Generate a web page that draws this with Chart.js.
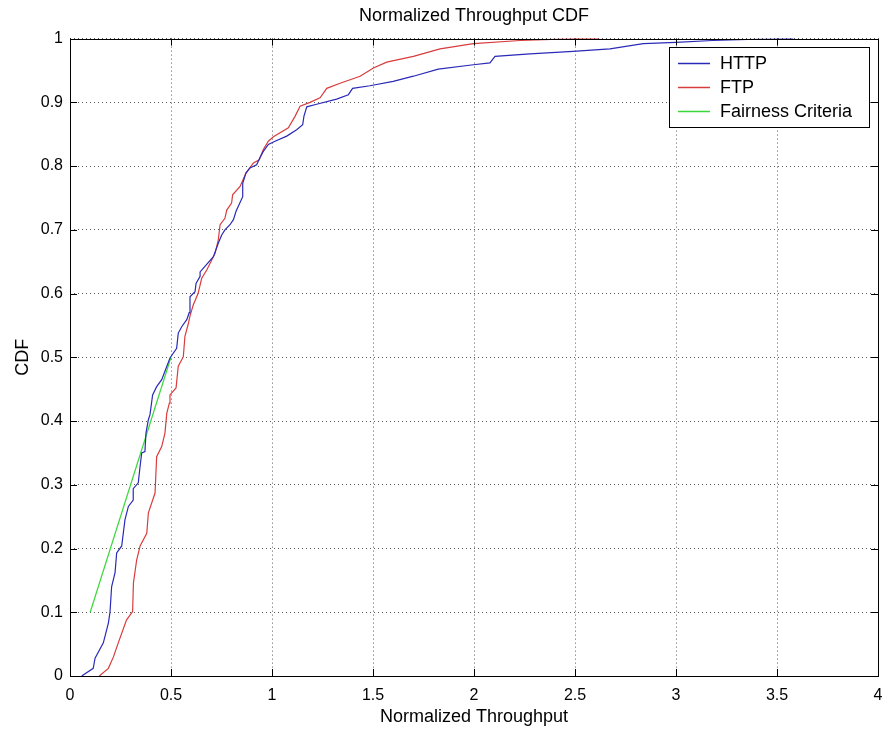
<!DOCTYPE html>
<html>
<head>
<meta charset="utf-8">
<script src="https://cdn.jsdelivr.net/npm/chart.js@4/dist/chart.umd.min.js"></script>
<style>
  html, body { margin: 0; padding: 0; background: #fff; }
  #wrap { width: 887px; height: 730px; }
</style>
</head>
<body>
<div id="wrap"><canvas id="cdf"></canvas></div>
<script>
// data
let httpX = [0.058, 0.115, 0.124, 0.165, 0.19, 0.198, 0.206, 0.223, 0.231, 0.256, 0.272, 0.289, 0.313, 0.313, 0.338, 0.347, 0.355, 0.371, 0.376, 0.388, 0.396, 0.409, 0.429, 0.454, 0.47, 0.495, 0.528, 0.536, 0.553, 0.578, 0.59, 0.594, 0.619, 0.624, 0.644, 0.644, 0.71, 0.734, 0.751, 0.767, 0.792, 0.809, 0.822, 0.855, 0.855, 0.871, 0.891, 0.924, 0.94, 0.957, 0.982, 1.015, 1.073, 1.122, 1.152, 1.158, 1.172, 1.221, 1.32, 1.378, 1.399, 1.485, 1.6, 1.7, 1.823, 1.997, 2.079, 2.104, 2.277, 2.49, 2.673, 2.838, 3.0, 3.18, 3.4, 3.58];
let httpY = [0, 0.012, 0.028, 0.052, 0.083, 0.1, 0.14, 0.162, 0.193, 0.204, 0.245, 0.266, 0.276, 0.294, 0.303, 0.329, 0.35, 0.352, 0.381, 0.402, 0.41, 0.441, 0.454, 0.465, 0.478, 0.499, 0.514, 0.538, 0.548, 0.559, 0.57, 0.595, 0.603, 0.616, 0.627, 0.634, 0.658, 0.679, 0.692, 0.70, 0.708, 0.716, 0.729, 0.752, 0.773, 0.789, 0.797, 0.802, 0.813, 0.823, 0.834, 0.839, 0.847, 0.857, 0.865, 0.878, 0.893, 0.897, 0.905, 0.912, 0.922, 0.926, 0.933, 0.941, 0.952, 0.959, 0.962, 0.972, 0.976, 0.98, 0.984, 0.992, 0.994, 0.997, 0.999, 1.0];

let ftpX = [0.145, 0.19, 0.215, 0.239, 0.28, 0.31, 0.314, 0.33, 0.347, 0.38, 0.388, 0.421, 0.429, 0.454, 0.47, 0.479, 0.492, 0.495, 0.525, 0.536, 0.561, 0.569, 0.586, 0.594, 0.61, 0.634, 0.652, 0.677, 0.718, 0.734, 0.743, 0.767, 0.776, 0.8, 0.805, 0.842, 0.871, 0.908, 0.937, 0.957, 0.982, 1.007, 1.081, 1.114, 1.139, 1.188, 1.238, 1.271, 1.337, 1.436, 1.502, 1.568, 1.7, 1.832, 1.997, 2.228, 2.5, 2.62];
let ftpY = [0, 0.012, 0.03, 0.052, 0.088, 0.101, 0.146, 0.182, 0.204, 0.224, 0.256, 0.287, 0.344, 0.36, 0.381, 0.412, 0.428, 0.441, 0.452, 0.486, 0.501, 0.533, 0.553, 0.565, 0.582, 0.6, 0.624, 0.637, 0.663, 0.684, 0.708, 0.718, 0.731, 0.742, 0.755, 0.768, 0.789, 0.805, 0.81, 0.826, 0.839, 0.846, 0.86, 0.878, 0.894, 0.9, 0.907, 0.922, 0.93, 0.941, 0.954, 0.963, 0.972, 0.984, 0.992, 0.997, 1.0, 1.0];

let fairX = [0.1, 0.5];
let fairY = [0.1, 0.5];

let xTicks = [0, 0.5, 1, 1.5, 2, 2.5, 3, 3.5, 4];
let yTicks = [0, 0.1, 0.2, 0.3, 0.4, 0.5, 0.6, 0.7, 0.8, 0.9, 1];

function pts(xs, ys) {
  return xs.map((x, i) => ({ x: x, y: ys[i] }));
}

let font = "'Liberation Sans', Arial, sans-serif";

// box, inward ticks and legend like the matlab figure
let matlabFrame = {
  id: "matlabFrame",
  afterDraw(chart) {
    let ctx = chart.ctx;
    let a = chart.chartArea;
    let xs = chart.scales.x;
    let ys = chart.scales.y;
    ctx.save();
    ctx.strokeStyle = "#000";
    ctx.lineWidth = 1;
    ctx.strokeRect(Math.round(a.left) + 0.5, Math.round(a.top) + 0.5, Math.round(a.right - a.left), Math.round(a.bottom - a.top));
    ctx.beginPath();
    xTicks.forEach((t) => {
      let px = Math.round(xs.getPixelForValue(t)) + 0.5;
      ctx.moveTo(px, a.bottom); ctx.lineTo(px, a.bottom - 7);
      ctx.moveTo(px, a.top); ctx.lineTo(px, a.top + 7);
    });
    yTicks.forEach((t) => {
      let py = Math.round(ys.getPixelForValue(t)) + 0.5;
      ctx.moveTo(a.left, py); ctx.lineTo(a.left + 7, py);
      ctx.moveTo(a.right, py); ctx.lineTo(a.right - 7, py);
    });
    ctx.stroke();

    // legend
    let lx = 669, ly = 47, lw = 200, lh = 80;
    ctx.fillStyle = "#fff";
    ctx.fillRect(lx, ly, lw, lh);
    ctx.strokeStyle = "#000";
    ctx.strokeRect(lx + 0.5, ly + 0.5, lw, lh);
    ctx.font = "18px " + font;
    ctx.textBaseline = "middle";
    chart.data.datasets.forEach((ds, i) => {
      let cy = Math.round(ly + 16 + i * 24);
      ctx.strokeStyle = ds.borderColor;
      ctx.lineWidth = 1.5;
      ctx.beginPath();
      ctx.moveTo(678, cy + 0.5);
      ctx.lineTo(710, cy + 0.5);
      ctx.stroke();
      ctx.fillStyle = "#000";
      ctx.fillText(ds.label, 720, cy + 1);
    });
    ctx.restore();
  },
};

let cdfCtx = document.getElementById("cdf").getContext("2d");
let cdfChart = new Chart(cdfCtx, {
  type: "scatter",
  data: {
    datasets: [
      {
        label: "HTTP",
        data: pts(httpX, httpY),
        showLine: true,
        borderColor: "#2a2ab8",
        borderWidth: 1.2,
        pointRadius: 0,
      },
      {
        label: "FTP",
        data: pts(ftpX, ftpY),
        showLine: true,
        borderColor: "#d83c3c",
        borderWidth: 1.2,
        pointRadius: 0,
      },
      {
        label: "Fairness Criteria",
        data: pts(fairX, fairY),
        showLine: true,
        borderColor: "#3ad83a",
        borderWidth: 1.2,
        pointRadius: 0,
      },
    ],
  },
  options: {
    responsive: true,
    maintainAspectRatio: false,
    animation: false,
    layout: { padding: { left: 12, right: 9, top: 0, bottom: 0 } },
    plugins: {
      legend: { display: false },
      tooltip: { enabled: false },
      title: {
        display: true,
        fullSize: false,
        text: "Normalized Throughput CDF",
        color: "#000",
        font: { family: font, size: 18, weight: "normal" },
        padding: { top: 5, bottom: 12 },
      },
    },
    scales: {
      x: {
        type: "linear",
        min: 0,
        max: 4,
        afterBuildTicks: (s) => { s.ticks = xTicks.map((v) => ({ value: v })); },
        afterFit: (s) => {
          s.height = 54;
          s.paddingLeft = 0;
          s.paddingRight = 0;
        },
        ticks: {
          color: "#000",
          font: { family: font, size: 16 },
          padding: 10,
          maxRotation: 0,
          callback: (v) => String(v),
        },
        grid: { color: "rgba(0,0,0,0.65)", drawTicks: false, lineWidth: 1 },
        border: { display: false, dash: [1, 3] },
        title: {
          display: true,
          text: "Normalized Throughput",
          color: "#000",
          font: { family: font, size: 18 },
          padding: { top: 0, bottom: 2 },
        },
      },
      y: {
        type: "linear",
        min: 0,
        max: 1,
        afterBuildTicks: (s) => { s.ticks = yTicks.map((v) => ({ value: v })); },
        afterFit: (s) => { s.width = 58; },
        ticks: {
          color: "#000",
          font: { family: font, size: 16 },
          padding: 7,
          callback: (v) => String(v),
        },
        grid: { color: "rgba(0,0,0,0.65)", drawTicks: false, lineWidth: 1 },
        border: { display: false, dash: [1, 3] },
        title: {
          display: true,
          text: "CDF",
          color: "#000",
          font: { family: font, size: 18 },
          padding: 0,
        },
      },
    },
  },
  plugins: [matlabFrame],
});
</script>
</body>
</html>
